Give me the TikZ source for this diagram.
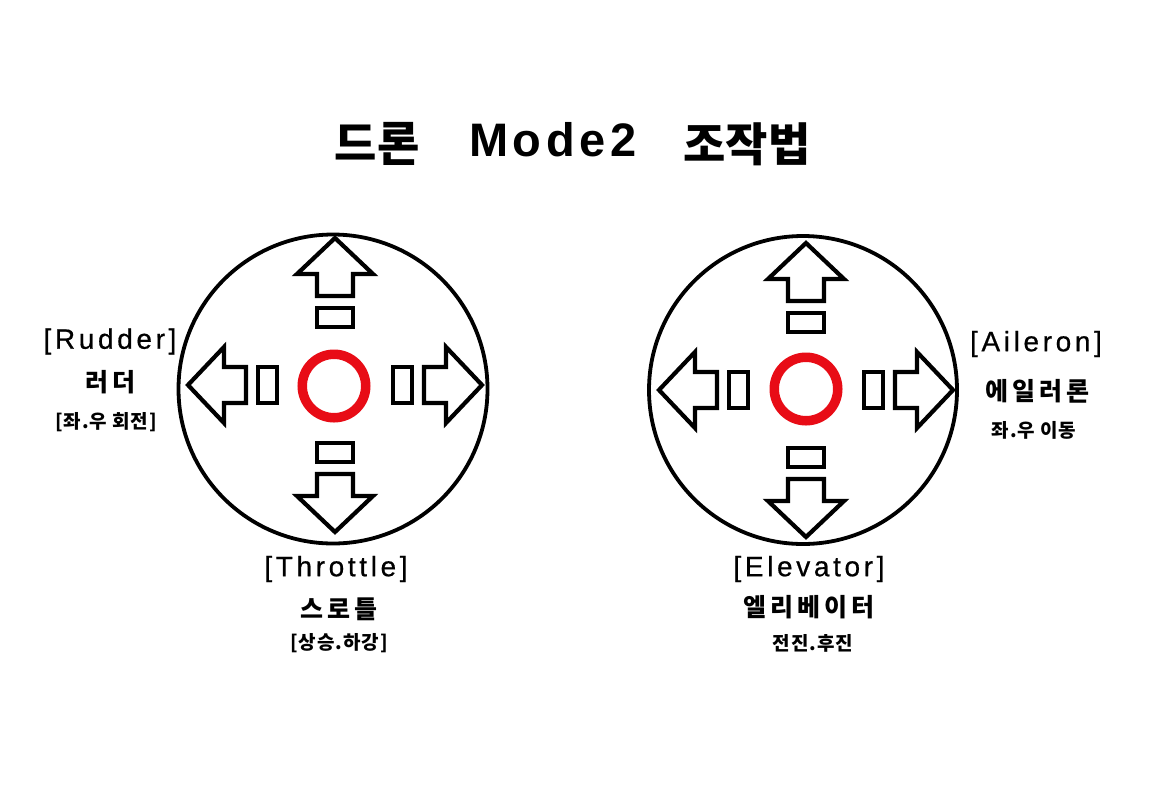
\documentclass[tikz,border=0pt]{standalone}
\usepackage{fontspec}
\setmainfont{Liberation Sans}
\newfontfamily\krtitle{Noto Sans CJK KR}
\newfontfamily\krmid{Noto Sans CJK KR}[LetterSpace=16]
\newfontfamily\krsmall{Noto Sans CJK KR}[LetterSpace=5]
\newfontfamily\latlab{Liberation Sans}[LetterSpace=13, FakeBold=0.6]
\newfontfamily\lattitle{Liberation Sans}[LetterSpace=10]
\definecolor{ringred}{RGB}{232,12,22}
\tikzset{
  titlekr/.style={inner sep=0pt, font=\krtitle\bfseries\fontsize{46}{50}\selectfont},
  titlelat/.style={inner sep=0pt, font=\lattitle\bfseries\fontsize{47}{50}\selectfont},
  enlabel/.style={inner sep=0pt, font=\latlab\fontsize{28}{30}\selectfont},
  krlabel/.style={inner sep=0pt, font=\krmid\bfseries\fontsize{25}{28}\selectfont},
  krnote/.style={inner sep=0pt, font=\krsmall\bfseries\fontsize{19}{22}\selectfont},
  bigcircle/.style={draw=black, line width=3.8pt},
  ring/.style={draw=ringred, line width=9.5pt},
  arrowline/.style={draw=black, fill=white, line width=4.2pt, line join=miter},
  pics/joyarrow/.style={code={
    \draw[arrowline] (-18,-89) -- (-18,-111) -- (-38,-111) -- (0,-147)
       -- (38,-111) -- (18,-111) -- (18,-89) -- cycle;
    \draw[arrowline] (-18,-58) rectangle (18,-77);
  }}
}
\begin{document}
\begin{tikzpicture}[x=1pt,y=-1pt]
\useasboundingbox[fill=white] (0,0) rectangle (1152,796);

% title
\node[titlekr] (t1) at (377,144) {드론};
\node[titlelat] (t2) at (553,140) {Mode2};
\node[titlekr] (t3) at (747,144) {조작법};

% left stick
\node[bigcircle, circle, minimum size=309pt, inner sep=0pt] (lc) at (333,389) {};
\coordinate (lj) at (335,385);
\node[ring, circle, minimum size=63.5pt, inner sep=0pt] (lr) at (334,386) {};
\foreach \a in {0,90,180,270} \pic[rotate=\a] at (lj) {joyarrow};

% right stick
\node[bigcircle, circle, minimum size=308pt, inner sep=0pt] (rc) at (803,390) {};
\coordinate (rj) at (806,390);
\node[ring, circle, minimum size=63.5pt, inner sep=0pt] (rr) at (806,389) {};
\foreach \a in {0,90,180,270} \pic[rotate=\a] at (rj) {joyarrow};

% left labels
\node[enlabel] (rud) at (110,341.5) {[Rudder]};
\node[krlabel] (rudk) at (110,382) {러더};
\node[krnote] (rudn) at (106,422) {[좌.우 회전]};

\node[enlabel] (thr) at (336,569) {[Throttle]};
\node[krlabel] (thrk) at (339,609) {스로틀};
\node[krnote] (thrn) at (339,643) {[상승.하강]};

% right labels
\node[enlabel] (ail) at (1036,344) {[Aileron]};
\node[krlabel] (ailk) at (1037,391) {에일러론};
\node[krnote] (ailn) at (1034,430) {좌.우 이동};

\node[enlabel] (ele) at (809,569) {[Elevator]};
\node[krlabel] (elek) at (809,607) {엘리베이터};
\node[krnote] (elen) at (813,643) {전진.후진};
\end{tikzpicture}
\end{document}
